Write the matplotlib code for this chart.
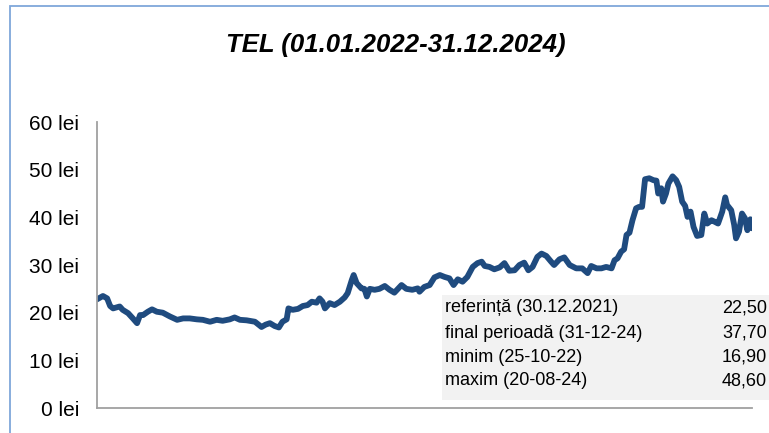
import matplotlib
matplotlib.use('Agg')
import matplotlib.pyplot as plt
from matplotlib.patches import Rectangle
import pandas as pd

plt.rcParams['font.family'] = ['Liberation Sans', 'DejaVu Sans']

# days since 01.01.2022 and closing price (lei)
day = [0, 10, 17, 22, 27, 38, 43, 52, 60, 67, 72, 77, 85, 92, 100, 110, 122, 134, 144, 155,
       167, 177, 189, 200, 210, 222, 230, 239, 250, 264, 275, 282, 289, 297, 304, 310, 317, 320,
       327, 336, 344, 352, 359, 367, 372, 377, 381, 389, 397, 406, 414, 419, 426, 429, 434, 442,
       447, 451, 456, 464, 472, 481, 489, 497, 509, 517, 527, 536, 539, 547, 556, 564, 573, 581,
       589, 596, 603, 611, 619, 628, 636, 643, 648, 656, 664, 673, 681, 689, 698, 706, 714, 721,
       728, 736, 743, 751, 759, 764, 773, 781, 790, 801, 811, 820, 826, 835, 843, 851, 860, 865,
       870, 876, 881, 885, 890, 895, 901, 906, 911, 916, 923, 930, 935, 938, 943, 946, 951, 955,
       962, 968, 973, 978, 983, 987, 992, 997, 1003, 1010, 1015, 1020, 1027, 1032, 1038, 1045,
       1050, 1053, 1060, 1065, 1068, 1073, 1078, 1083, 1087, 1092, 1095]
price = [22.8, 23.5, 23.0, 21.4, 20.9, 21.3, 20.6, 19.9, 18.8, 17.8, 19.5, 19.5, 20.2, 20.7, 20.2,
         20.0, 19.2, 18.5, 18.8, 18.8, 18.6, 18.5, 18.1, 18.5, 18.3, 18.6, 19.0, 18.5, 18.4, 18.1,
         17.0, 17.5, 17.8, 17.2, 16.9, 18.1, 18.6, 20.9, 20.6, 20.8, 21.4, 21.6, 22.3, 22.1, 23.0,
         22.3, 20.9, 22.0, 21.6, 22.3, 23.2, 24.1, 26.9, 27.9, 26.2, 25.1, 25.0, 23.4, 25.0, 24.8,
         25.0, 25.6, 24.8, 24.2, 25.8, 25.0, 24.8, 25.1, 24.4, 25.4, 25.8, 27.4, 27.9, 27.5, 27.2,
         25.8, 27.0, 26.5, 27.5, 29.6, 30.4, 30.7, 29.8, 29.6, 29.1, 29.5, 30.4, 28.8, 28.9, 30.0,
         30.5, 28.9, 29.6, 31.7, 32.4, 31.9, 30.7, 30.0, 31.2, 31.6, 30.0, 29.3, 29.3, 28.3, 29.8,
         29.3, 29.3, 29.6, 29.3, 31.0, 31.4, 32.8, 33.3, 36.3, 36.8, 39.4, 41.9, 42.2, 42.2, 48.0,
         48.2, 47.8, 47.7, 45.0, 46.1, 43.3, 45.0, 47.1, 48.6, 47.8, 46.4, 43.3, 42.4, 40.1, 41.2,
         38.0, 36.1, 36.3, 40.8, 38.7, 39.4, 39.1, 38.7, 41.2, 44.2, 42.6, 41.5, 38.4, 35.6, 37.0,
         40.8, 39.8, 37.3, 39.6, 37.7]

row_labels = ['referință (30.12.2021)', 'final perioadă (31-12-24)',
              'minim (25-10-22)', 'maxim (20-08-24)']
row_values = ['22,50', '37,70', '16,90', '48,60']

dates = pd.Timestamp('2022-01-01') + pd.to_timedelta(day, unit='D')

fig = plt.figure(figsize=(7.69, 4.33), dpi=100)
ax = fig.add_axes([0.1261, 0.0577, 0.852, 0.6605])

ax.plot(dates, price, color='#1f4b7f', linewidth=4.2, solid_joinstyle='round', solid_capstyle='round')
ax.set_xlim(dates[0], dates[-1])
ax.set_ylim(0, 60)
ax.set_yticks(range(0, 61, 10))
ax.set_yticklabels(['{} lei'.format(v) for v in range(0, 61, 10)], fontsize=15)
ax.set_xticks([])
ax.tick_params(axis='y', length=0, pad=13)
for s in ['top', 'right']:
    ax.spines[s].set_visible(False)
for s in ['left', 'bottom']:
    ax.spines[s].set_color('#a0a0a0')
    ax.spines[s].set_linewidth(1.3)

# outer frame
fig.patches.append(Rectangle((10 / 769, -0.2), 2, 1.186, transform=fig.transFigure,
                             fill=False, edgecolor='#7fa7da', linewidth=1.3))

fig.text(0.515, 0.896, 'TEL (01.01.2022-31.12.2024)', ha='center', va='center',
         fontsize=18.5, fontweight='bold', fontstyle='italic')

# summary table
fig.patches.append(Rectangle((0.5748, 0.0762), 0.5, 0.2425, transform=fig.transFigure,
                             facecolor='#f2f2f2', edgecolor='none', zorder=5))
row_y = [0.2887, 0.2309, 0.1755, 0.1201]
for lab, val, y in zip(row_labels, row_values, row_y):
    fig.text(0.5787, y, lab, ha='left', va='center', fontsize=13, zorder=6)
    fig.text(0.9974, y, val, ha='right', va='center', fontsize=13, zorder=6)

fig.savefig('out.png', dpi=100)
